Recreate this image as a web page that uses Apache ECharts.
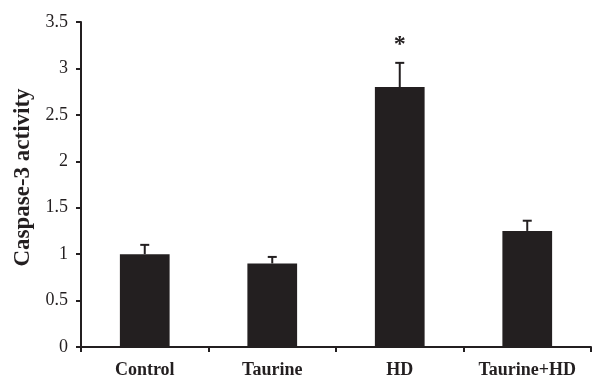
<!DOCTYPE html>
<html><head><meta charset="utf-8">
<script src="https://cdn.jsdelivr.net/npm/echarts@6/dist/echarts.min.js"></script>
<style>html,body{margin:0;padding:0;background:#fff}#c{width:609px;height:380px}</style>
</head><body><div id="c"></div>
<script>
const categories = ['Control', 'Taurine', 'HD', 'Taurine+HD'];
const means = [1.0, 0.9, 2.8, 1.25];
const errors = [0.1, 0.07, 0.26, 0.11];
const marks = ['', '', '*', ''];
const yTicks = [0, 0.5, 1, 1.5, 2, 2.5, 3, 3.5];

const chart = echarts.init(document.getElementById('c'));
const font = '"Liberation Serif", "Times New Roman", serif';
chart.setOption({
  animation: false,
  grid: { left: 81, right: 18, top: 22, bottom: 33, outerBoundsMode: 'none', containLabel: false },
  xAxis: {
    type: 'category', data: categories,
    axisLine: { lineStyle: { color: '#231f20', width: 2 } },
    axisTick: { show: true, alignWithLabel: false, length: 5, lineStyle: { color: '#231f20', width: 2 } },
    axisLabel: { interval: 0, hideOverlap: false, color: '#231f20', fontFamily: font, fontWeight: 'bold', fontSize: 18, margin: 14 }
  },
  yAxis: {
    type: 'value', min: 0, max: 3.5, interval: 0.5,
    name: 'Caspase-3 activity', nameLocation: 'middle', nameGap: 46,
    nameTextStyle: { color: '#231f20', fontFamily: font, fontWeight: 'bold', fontSize: 23, padding: [0, 0, 0, 14] },
    axisLine: { show: true, lineStyle: { color: '#231f20', width: 2 } },
    axisTick: { show: true, length: 5, lineStyle: { color: '#231f20', width: 2 } },
    splitLine: { show: false },
    axisLabel: { color: '#231f20', fontFamily: font, fontSize: 18, margin: 13,
      formatter: v => yTicks.includes(v) ? String(v) : '' }
  },
  series: [
    { type: 'bar', data: means, barWidth: '39%', itemStyle: { color: '#231f20' } },
    {
      type: 'custom',
      data: means.map((m, i) => [i, m, errors[i], marks[i]]),
      renderItem: function (params, api) {
        const i = api.value(0), m = api.value(1), e = api.value(2);
        const base = api.coord([i, m]);
        const top = api.coord([i, m + e]);
        const capW = 7;
        const children = [
          { type: 'line', shape: { x1: base[0], y1: base[1], x2: top[0], y2: top[1] }, style: { stroke: '#231f20', lineWidth: 2 } },
          { type: 'line', shape: { x1: top[0] - capW / 2 - 1, y1: top[1], x2: top[0] + capW / 2 + 1, y2: top[1] }, style: { stroke: '#231f20', lineWidth: 2 } }
        ];
        const mk = marks[params.dataIndex];
        if (mk) {
          children.push({ type: 'text', style: { text: mk, x: top[0], y: top[1] - 6, align: 'center', verticalAlign: 'bottom',
            fill: '#231f20', font: 'bold 24px ' + font } });
        }
        return { type: 'group', children: children };
      },
      z: 5
    }
  ]
});
</script></body></html>
